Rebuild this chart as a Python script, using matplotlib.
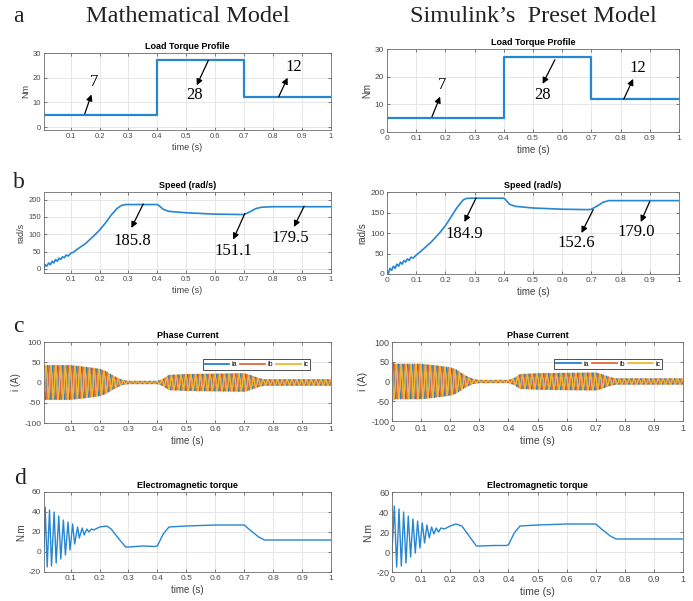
import matplotlib
matplotlib.use('Agg')
import matplotlib.pyplot as plt
import numpy as np

# ---- data ----
# load torque steps (Nm)
load_t = [0.0, 0.4, 0.4, 0.7, 0.7, 1.0]
load_v = [5, 5, 27, 27, 12, 12]

# speed (rad/s), mathematical model
spd_t_m = [0.008, 0.012, 0.018, 0.024, 0.030, 0.036, 0.042, 0.048, 0.054, 0.060, 0.066,
           0.072, 0.078, 0.085, 0.092, 0.10, 0.11, 0.12, 0.15, 0.18, 0.20, 0.22, 0.24,
           0.26, 0.275, 0.29, 0.40, 0.405, 0.42, 0.44, 0.50, 0.60, 0.69, 0.70, 0.72,
           0.74, 0.76, 0.80, 1.0]
spd_v_m = [0, 12, 8, 17, 12, 22, 17, 27, 22, 31, 27, 35, 32, 40, 37, 45, 48, 55, 72,
           95, 112, 132, 155, 174, 183, 185.8, 185.8, 183, 172, 166, 162, 158, 157,
           157, 165, 174, 178, 179.5, 179.5]
# speed, Simulink preset model
spd_t_s = [0.0, 0.005, 0.010, 0.016, 0.022, 0.028, 0.034, 0.040, 0.046, 0.052, 0.058,
           0.064, 0.070, 0.076, 0.082, 0.090, 0.10, 0.11, 0.12, 0.15, 0.18, 0.20, 0.22,
           0.24, 0.26, 0.27, 0.285, 0.40, 0.405, 0.42, 0.44, 0.50, 0.60, 0.69, 0.70,
           0.72, 0.74, 0.76, 0.80, 1.0]
spd_v_s = [0, 2, 14, 9, 19, 14, 24, 19, 29, 24, 33, 29, 37, 33, 41, 39, 46, 52, 58, 77,
           100, 118, 140, 162, 180, 184, 184.9, 184.9, 182, 170, 165, 161, 158, 157,
           158, 166, 175, 179, 179.0, 179.0]

# phase current envelope (A)
env_t_m = [0.0, 0.005, 0.01, 0.10, 0.15, 0.20, 0.22, 0.25, 0.28, 0.30, 0.40, 0.42,
           0.44, 0.50, 0.70, 0.72, 0.75, 0.77, 1.0]
env_v_m = [50, 45, 42, 42, 38, 33, 28, 15, 5, 3, 3, 8, 18, 20, 22, 18, 10, 7, 7]
env_t_s = [0.0, 0.005, 0.01, 0.10, 0.15, 0.20, 0.22, 0.25, 0.28, 0.30, 0.40, 0.42,
           0.44, 0.50, 0.70, 0.72, 0.75, 0.77, 1.0]
env_v_s = [53, 47, 44, 44, 40, 35, 30, 15, 5, 3, 3, 8, 18, 20, 22, 18, 10, 7, 7]
elec_freq = 60  # Hz, stripe rate seen in the current traces

# electromagnetic torque (N.m)
tq_t_m = [0.008, 0.012, 0.019, 0.027, 0.034, 0.043, 0.050, 0.059, 0.066, 0.075, 0.082,
          0.091, 0.098, 0.107, 0.114, 0.124, 0.130, 0.140, 0.147, 0.156, 0.163, 0.172,
          0.18, 0.20, 0.225, 0.24, 0.27, 0.29, 0.30, 0.35, 0.39, 0.40, 0.42, 0.44,
          0.50, 0.60, 0.70, 0.72, 0.75, 0.77, 1.0]
tq_v_m = [0, 45, -15, 42, -14, 40, -11, 36, -7, 32, -3, 30, 2, 28, 8, 25, 14, 24, 17,
          23, 20, 23, 22, 25, 26, 23, 12, 5, 5, 6, 5.5, 6, 18, 25, 26, 27, 27, 22, 15,
          12, 12]
tq_t_s = [0.0, 0.008, 0.016, 0.024, 0.032, 0.040, 0.048, 0.056, 0.064, 0.072, 0.080,
          0.088, 0.096, 0.104, 0.112, 0.120, 0.128, 0.136, 0.144, 0.152, 0.160, 0.168,
          0.18, 0.20, 0.22, 0.24, 0.27, 0.29, 0.30, 0.35, 0.39, 0.40, 0.42, 0.44,
          0.50, 0.60, 0.70, 0.72, 0.75, 0.77, 1.0]
tq_v_s = [0, 46, -15, 43, -14, 40, -11, 36, -5, 33, -1, 31, 4, 29, 9, 27, 14, 25, 18,
          24, 20, 24, 23, 26, 28, 26, 14, 6, 6, 6.5, 6.5, 7, 19, 26, 27, 28, 28, 23,
          16, 13, 13]

# annotations: (label, tail x, tail y, head x, head y, text x, text y)
ann_a_m = [('7', 0.149, 5.4, 0.172, 13.2, 0.181, 18.2),
           ('28', 0.576, 27.0, 0.536, 16.9, 0.530, 13.1),
           ('12', 0.819, 12.2, 0.850, 20.0, 0.871, 24.3)]
ann_a_s = [('7', 0.154, 5.5, 0.182, 12.8, 0.188, 17.0),
           ('28', 0.575, 26.1, 0.533, 17.4, 0.533, 13.4),
           ('12', 0.811, 11.9, 0.843, 19.2, 0.860, 23.3)]
ann_b_m = [('185.8', 0.351, 187.5, 0.310, 118, 0.314, 81.7),
           ('151.1', 0.702, 159.6, 0.662, 84.6, 0.662, 51),
           ('179.5', 0.907, 180.8, 0.872, 121, 0.858, 89)]
ann_b_s = [('184.9', 0.305, 185.4, 0.265, 126.8, 0.265, 98),
           ('152.6', 0.706, 156.9, 0.666, 100, 0.649, 75.6),
           ('179.0', 0.900, 177, 0.869, 126.8, 0.854, 101.6)]

BLUE = '#2686d2'
CA, CB, CC = '#1f84d0', '#e2693f', '#efb72e'
W, H = 693, 601

plt.rcParams['font.family'] = 'Liberation Sans'
plt.rcParams['axes.unicode_minus'] = False
fig = plt.figure(figsize=(W / 100, H / 100), dpi=100)


def box(l, r, t, b):
    return [l / W, 1 - b / H, (r - l) / W, (b - t) / H]


def style(ax, left_col, yt, ylim, ylab, title, fs):
    if left_col:
        ax.set_xlim(0.008, 1)
        xt = [0.1 * i for i in range(1, 11)]
        xl = ['0.1', '0.2', '0.3', '0.4', '0.5', '0.6', '0.7', '0.8', '0.9', '1']
    else:
        ax.set_xlim(0, 1)
        xt = [0.1 * i for i in range(0, 11)]
        xl = ['0', '0.1', '0.2', '0.3', '0.4', '0.5', '0.6', '0.7', '0.8', '0.9', '1']
    ax.set_xticks(xt)
    ax.set_xticklabels(xl)
    ax.set_ylim(ylim)
    ax.set_yticks(yt)
    ax.grid(True, color='#e3e3e3', lw=0.6)
    ax.set_axisbelow(True)
    ax.tick_params(direction='in', length=2.5, width=0.5, labelsize=fs,
                   colors='#4a4a4a', pad=2, top=True, right=True)
    for s in ax.spines.values():
        s.set_color('#6e6e6e')
        s.set_linewidth(0.6)
    ax.set_xlabel('time (s)', fontsize=fs + 1, color='#404040', labelpad=2)
    ax.set_ylabel(ylab, fontsize=fs + 1, color='#404040', labelpad=2)
    ax.set_title(title, fontsize=6.5, fontweight='bold', pad=3)


def annotate(ax, items, fs):
    for lab, x0, y0, x1, y1, xt, yt in items:
        ax.annotate('', xy=(x1, y1), xytext=(x0, y0),
                    arrowprops=dict(arrowstyle='-|>', color='k', lw=0.9,
                                    mutation_scale=9, shrinkA=0, shrinkB=0))
        ax.text(xt, yt, lab, fontsize=fs, family='Liberation Serif',
                ha='center', va='center')


def currents(ax, et, ev):
    t = np.linspace(0, 1, 20000)
    amp = np.interp(t, et, ev)
    theta = 2 * np.pi * elec_freq * t
    la, = ax.plot(t, amp * np.sin(theta), color=CA, lw=0.9, label='ia')
    lb, = ax.plot(t, amp * np.sin(theta - 2 * np.pi / 3), color=CB, lw=0.9, label='ib')
    lc, = ax.plot(t, amp * np.sin(theta + 2 * np.pi / 3), color=CC, lw=0.9, label='ic')
    leg = ax.legend(handles=[la, lb, lc], ncol=3, loc='upper right',
                    bbox_to_anchor=(0.94, 0.83), fontsize=5, handlelength=3.6,
                    columnspacing=0.5, handletextpad=0.3, borderpad=0.25,
                    fancybox=False, framealpha=1)
    leg.get_frame().set_edgecolor('#333333')
    leg.get_frame().set_linewidth(0.6)
    for h in leg.get_lines():
        h.set_linewidth(1.3)


cols = [
    dict(left=True, spd=(spd_t_m, spd_v_m), env=(env_t_m, env_v_m), tq=(tq_t_m, tq_v_m),
         ann_a=ann_a_m, ann_b=ann_b_m, a_ylim=(-1.2, 30), b_ylim=(-12, 222),
         boxes=[(44, 331, 53, 130), (44, 331, 192, 273), (44, 331, 342, 423),
                (44, 331, 492, 572)], fs=(5.5, 6.0)),
    dict(left=False, spd=(spd_t_s, spd_v_s), env=(env_t_s, env_v_s), tq=(tq_t_s, tq_v_s),
         ann_a=ann_a_s, ann_b=ann_b_s, a_ylim=(0, 30), b_ylim=(0, 200),
         boxes=[(387, 679, 49, 132), (387, 679, 192, 274), (392, 683, 342, 421),
                (392, 683, 492, 572)], fs=(6.0, 6.5)),
]

for c in cols:
    fa, fc = c['fs']
    ax = fig.add_axes(box(*c['boxes'][0]))
    ax.plot(load_t, load_v, color=BLUE, lw=1.6)
    style(ax, c['left'], [0, 10, 20, 30], c['a_ylim'], 'Nm', 'Load Torque Profile', fa)
    annotate(ax, c['ann_a'], 12)

    ax = fig.add_axes(box(*c['boxes'][1]))
    ax.plot(c['spd'][0], c['spd'][1], color=BLUE, lw=1.2)
    style(ax, c['left'], [0, 50, 100, 150, 200], c['b_ylim'], 'rad/s', 'Speed (rad/s)', fa)
    annotate(ax, c['ann_b'], 12)

    ax = fig.add_axes(box(*c['boxes'][2]))
    currents(ax, c['env'][0], c['env'][1])
    style(ax, c['left'], [-100, -50, 0, 50, 100], (-100, 100), 'i (A)', 'Phase Current', fc)

    ax = fig.add_axes(box(*c['boxes'][3]))
    ax.plot(c['tq'][0], c['tq'][1], color=BLUE, lw=1.0)
    style(ax, c['left'], [-20, 0, 20, 40, 60], (-20, 60), 'N.m', 'Electromagnetic torque', fc)

# headers and panel letters
serif = dict(family='Liberation Serif', color='#222222')
fig.text(188 / W, 1 - 17 / H, 'Mathematical Model', fontsize=17.5, ha='center', va='center', **serif)
fig.text(533 / W, 1 - 17 / H, 'Simulink\u2019s  Preset Model', fontsize=17.5, ha='center', va='center', **serif)
for lab, x, y in [('a', 18, 17), ('b', 19, 182), ('c', 18, 327), ('d', 20, 478)]:
    fig.text(x / W, 1 - y / H, lab, fontsize=17, ha='center', va='center', **serif)

fig.savefig('out.png', dpi=100)
